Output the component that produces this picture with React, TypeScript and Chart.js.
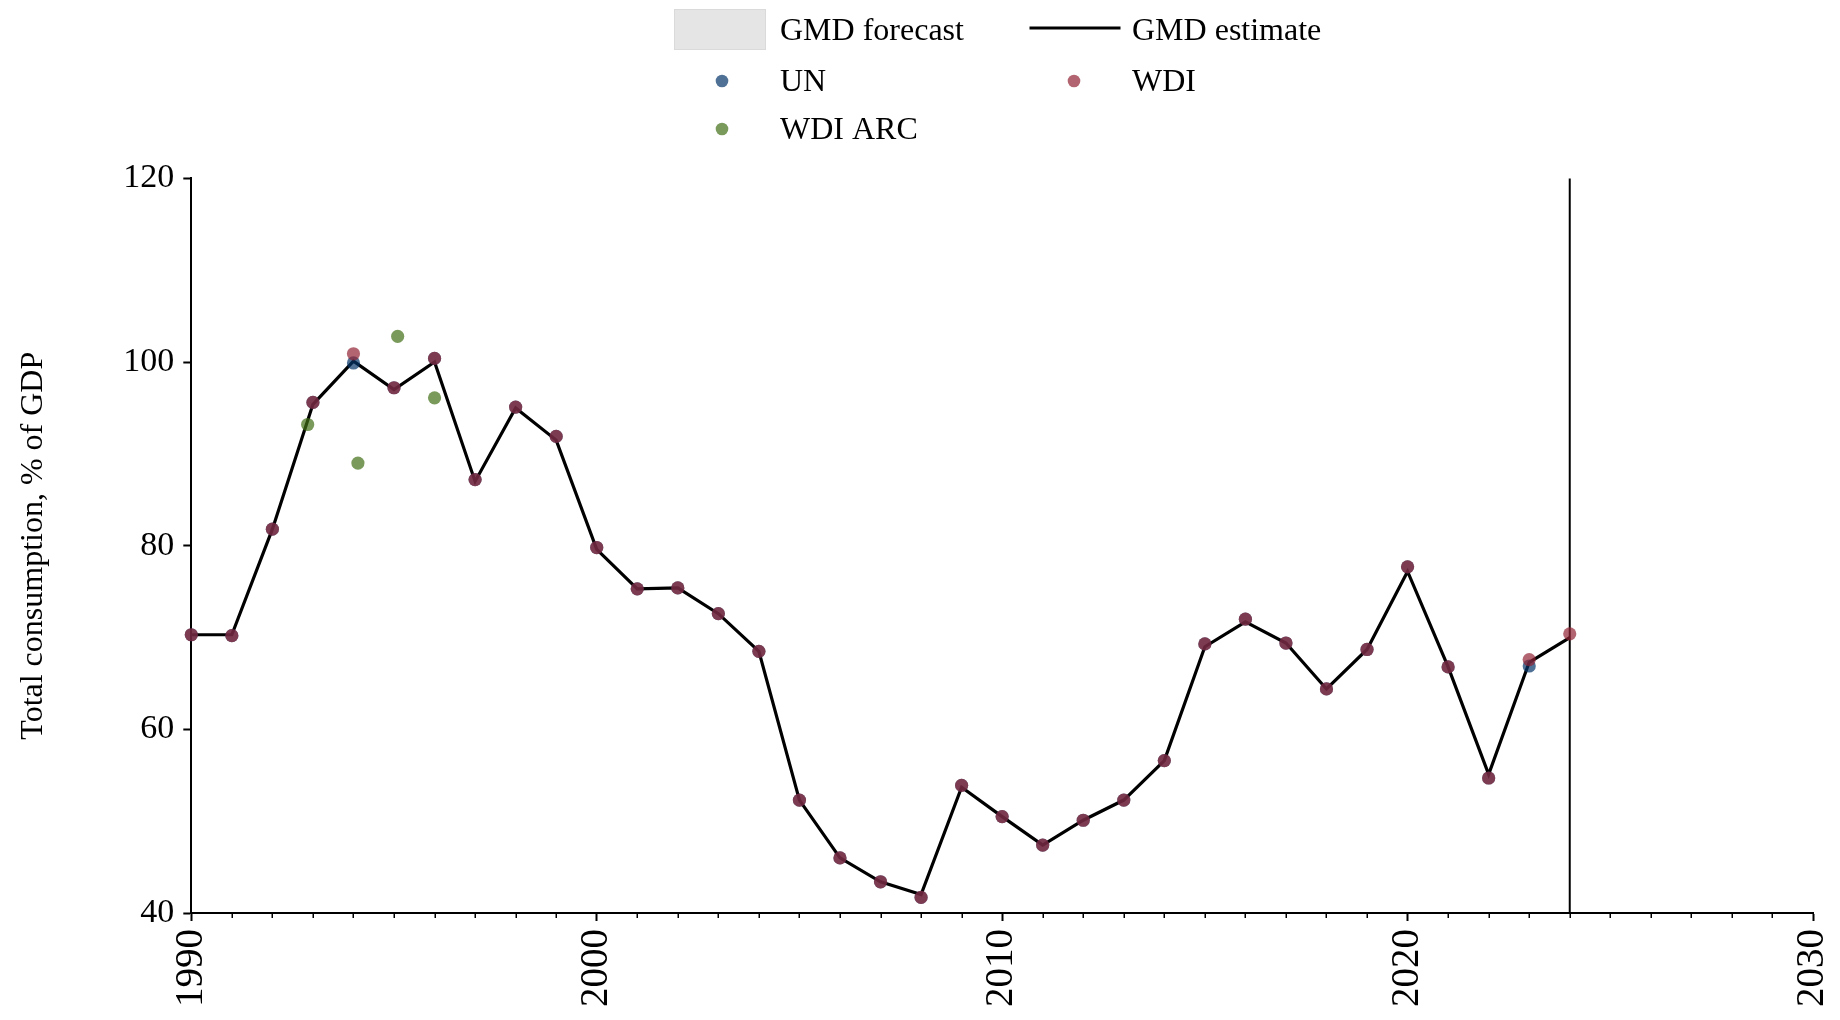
import React, { useEffect, useRef } from 'react';
import { Chart, registerables } from 'chart.js';

Chart.register(...registerables);

// ---------- data ----------
const gmdYears = [
  1990, 1991, 1992, 1993, 1994, 1995, 1996, 1997, 1998, 1999,
  2000, 2001, 2002, 2003, 2004, 2005, 2006, 2007, 2008, 2009,
  2010, 2011, 2012, 2013, 2014, 2015, 2016, 2017, 2018, 2019,
  2020, 2021, 2022, 2023, 2024,
];
const gmdEstimate = [
  70.3, 70.3, 81.8, 95.4, 100.1, 97.0, 100.0, 87.0, 95.0, 91.5,
  79.6, 75.3, 75.4, 72.6, 68.5, 52.3, 46.0, 43.4, 42.0, 53.7,
  50.5, 47.4, 50.1, 52.3, 56.6, 69.0, 71.7, 69.4, 64.4, 68.7,
  77.2, 66.8, 55.1, 67.3, 70.0,
];

const wdiYears = gmdYears;
const wdiValues = [
  70.3, 70.2, 81.8, 95.6, 100.9, 97.2, 100.4, 87.2, 95.1, 91.9,
  79.8, 75.3, 75.4, 72.6, 68.5, 52.3, 46.0, 43.4, 41.7, 53.9,
  50.5, 47.4, 50.1, 52.3, 56.6, 69.3, 72.0, 69.4, 64.4, 68.7,
  77.7, 66.8, 54.7, 67.6, 70.4,
];

const unYears = gmdYears.slice(0, 34);
const unValues = [
  70.3, 70.2, 81.8, 95.6, 99.9, 97.2, 100.4, 87.2, 95.1, 91.9,
  79.8, 75.3, 75.4, 72.6, 68.5, 52.3, 46.0, 43.4, 41.7, 53.9,
  50.5, 47.4, 50.1, 52.3, 56.6, 69.3, 72.0, 69.4, 64.4, 68.7,
  77.7, 66.8, 54.7, 66.9,
];

// WDI ARC points sit slightly off the exact years in the picture
const arcYears = [1992.87, 1994.11, 1995.09, 1996.0];
const arcValues = [93.2, 89.0, 102.8, 96.1];

const forecastStartYear = 2024;
const forecastYears: number[] = [];
const forecastValues: number[] = [];

const xTickValues = [1990, 2000, 2010, 2020, 2030];
const yTickValues = [40, 60, 80, 100, 120];
const yAxisTitle = 'Total consumption, % of GDP';

// ---------- styles ----------
const FONT = '"Liberation Serif", "Times New Roman", serif';
const UN_COLOR = 'rgba(4, 52, 105, 0.7)';
const WDI_COLOR = 'rgba(146, 36, 51, 0.7)';
const ARC_COLOR = 'rgba(65, 111, 22, 0.7)';
const FORECAST_COLOR = '#e5e5e5';
const POINT_R = 6.6;

const toXY = (xs: number[], ys: number[]) => xs.map((x, i) => ({ x, y: ys[i] }));

const legendLayout = [
  { label: 'GMD forecast', kind: 'box', mx: 720, tx: 780, y: 31 },
  { label: 'GMD estimate', kind: 'line', mx: 1075, tx: 1132, y: 31 },
  { label: 'UN', kind: 'point', mx: 722, tx: 780, y: 82 },
  { label: 'WDI', kind: 'point', mx: 1074, tx: 1132, y: 82 },
  { label: 'WDI ARC', kind: 'point', mx: 722, tx: 780, y: 130 },
];

const legendPlugin = {
  id: 'gmdLegend',
  afterDraw(chart: any) {
    const ctx = chart.ctx;
    ctx.save();
    ctx.font = `32px ${FONT}`;
    ctx.textBaseline = 'middle';
    ctx.textAlign = 'left';
    legendLayout.forEach((item) => {
      const ds = chart.data.datasets.find((d: any) => d.label === item.label);
      if (!ds) return;
      if (item.kind === 'box') {
        ctx.fillStyle = ds.backgroundColor;
        ctx.fillRect(item.mx - 45.5, item.y - 21.5, 91, 40);
        ctx.strokeStyle = '#dadada';
        ctx.lineWidth = 1;
        ctx.strokeRect(item.mx - 45.5, item.y - 21.5, 91, 40);
      } else if (item.kind === 'line') {
        ctx.strokeStyle = ds.borderColor;
        ctx.lineWidth = 3.2;
        ctx.beginPath();
        ctx.moveTo(item.mx - 45.5, item.y - 3);
        ctx.lineTo(item.mx + 45.5, item.y - 3);
        ctx.stroke();
      } else {
        ctx.fillStyle = ds.backgroundColor;
        ctx.beginPath();
        ctx.arc(item.mx, item.y - 1, 6.3, 0, Math.PI * 2);
        ctx.fill();
      }
      ctx.fillStyle = '#000';
      ctx.fillText(item.label, item.tx, item.y + 1);
    });
    ctx.restore();
  },
};

const minorTickPlugin = {
  id: 'minorTicks',
  afterDraw(chart: any) {
    const scale = chart.scales.x;
    const ctx = chart.ctx;
    const yAxis = chart.chartArea.bottom;
    ctx.save();
    ctx.strokeStyle = '#000';
    ctx.lineWidth = 1.5;
    for (let v = Math.ceil(scale.min); v <= scale.max; v += 1) {
      if (xTickValues.includes(v)) continue;
      const px = Math.round(scale.getPixelForValue(v)) + 0.25;
      ctx.beginPath();
      ctx.moveTo(px, yAxis);
      ctx.lineTo(px, yAxis + 5);
      ctx.stroke();
    }
    ctx.restore();
  },
};

export default function App() {
  const canvasRef = useRef<HTMLCanvasElement | null>(null);

  useEffect(() => {
    if (!canvasRef.current) return;
    const chart = new Chart(canvasRef.current, {
      type: 'scatter',
      data: {
        datasets: [
          {
            label: 'WDI',
            data: toXY(wdiYears, wdiValues),
            backgroundColor: WDI_COLOR,
            borderColor: WDI_COLOR,
            pointRadius: POINT_R,
            pointBorderWidth: 0,
            order: 0,
            clip: false,
          } as any,
          {
            label: 'UN',
            data: toXY(unYears, unValues),
            backgroundColor: UN_COLOR,
            borderColor: UN_COLOR,
            pointRadius: POINT_R,
            pointBorderWidth: 0,
            order: 1,
            clip: false,
          },
          {
            label: 'WDI ARC',
            data: toXY(arcYears, arcValues),
            backgroundColor: ARC_COLOR,
            borderColor: ARC_COLOR,
            pointRadius: POINT_R,
            pointBorderWidth: 0,
            order: 2,
            clip: false,
          },
          {
            label: 'GMD estimate',
            data: toXY(gmdYears, gmdEstimate),
            showLine: true,
            borderColor: '#000',
            backgroundColor: '#000',
            borderWidth: 3.2,
            pointRadius: 0,
            order: 3,
            clip: false,
          },
          {
            label: 'GMD forecast',
            data: toXY(forecastYears, forecastValues),
            showLine: true,
            fill: false,
            borderColor: FORECAST_COLOR,
            backgroundColor: FORECAST_COLOR,
            pointRadius: 0,
            order: 4,
          },
          {
            label: 'forecast start',
            data: [
              { x: forecastStartYear, y: yTickValues[0] },
              { x: forecastStartYear, y: yTickValues[yTickValues.length - 1] },
            ],
            showLine: true,
            borderColor: '#000',
            borderWidth: 2,
            pointRadius: 0,
            order: 5,
            clip: false,
          },
        ],
      },
      options: {
        animation: false,
        responsive: false,
        devicePixelRatio: 1,
        layout: { padding: { top: 178.4, right: 27, bottom: 0, left: 0 } },
        plugins: {
          legend: { display: false },
          tooltip: { enabled: false },
        },
        scales: {
          x: {
            type: 'linear',
            min: xTickValues[0],
            max: xTickValues[xTickValues.length - 1],
            afterBuildTicks: (s: any) => {
              s.ticks = xTickValues.map((v) => ({ value: v }));
            },
            afterFit: (s: any) => {
              s.height = 107;
              s.paddingLeft = 0;
              s.paddingRight = 0;
            },
            ticks: {
              autoSkip: false,
              minRotation: 90,
              maxRotation: 90,
              padding: 8,
              color: '#000',
              font: { family: FONT, size: 39 },
              callback: (v: any) => String(v),
            },
            grid: {
              drawOnChartArea: false,
              drawTicks: true,
              tickLength: 8,
              tickWidth: 2,
              tickColor: '#000',
            },
            border: { display: true, color: '#000', width: 2 },
          },
          y: {
            type: 'linear',
            min: yTickValues[0],
            max: yTickValues[yTickValues.length - 1],
            afterBuildTicks: (s: any) => {
              s.ticks = yTickValues.map((v) => ({ value: v }));
            },
            afterFit: (s: any) => {
              s.width = 191.3;
              s.paddingTop = 0;
              s.paddingBottom = 0;
            },
            ticks: {
              padding: 9,
              color: '#000',
              font: { family: FONT, size: 34 },
              callback: (v: any) => String(v),
            },
            grid: {
              drawOnChartArea: false,
              drawTicks: true,
              tickLength: 8,
              tickWidth: 2,
              tickColor: '#000',
            },
            border: { display: true, color: '#000', width: 2 },
            title: {
              display: true,
              text: yAxisTitle,
              color: '#000',
              font: { family: FONT, size: 32 },
              padding: { top: 14, bottom: 0 },
            },
          },
        },
      },
      plugins: [legendPlugin, minorTickPlugin],
    } as any);
    return () => chart.destroy();
  }, []);

  return (
    <div
      style={{
        position: 'fixed',
        left: 0,
        top: 0,
        width: 1840,
        height: 1020,
        background: '#fff',
      }}
    >
      <canvas ref={canvasRef} width={1840} height={1020} style={{ display: 'block' }} />
    </div>
  );
}
